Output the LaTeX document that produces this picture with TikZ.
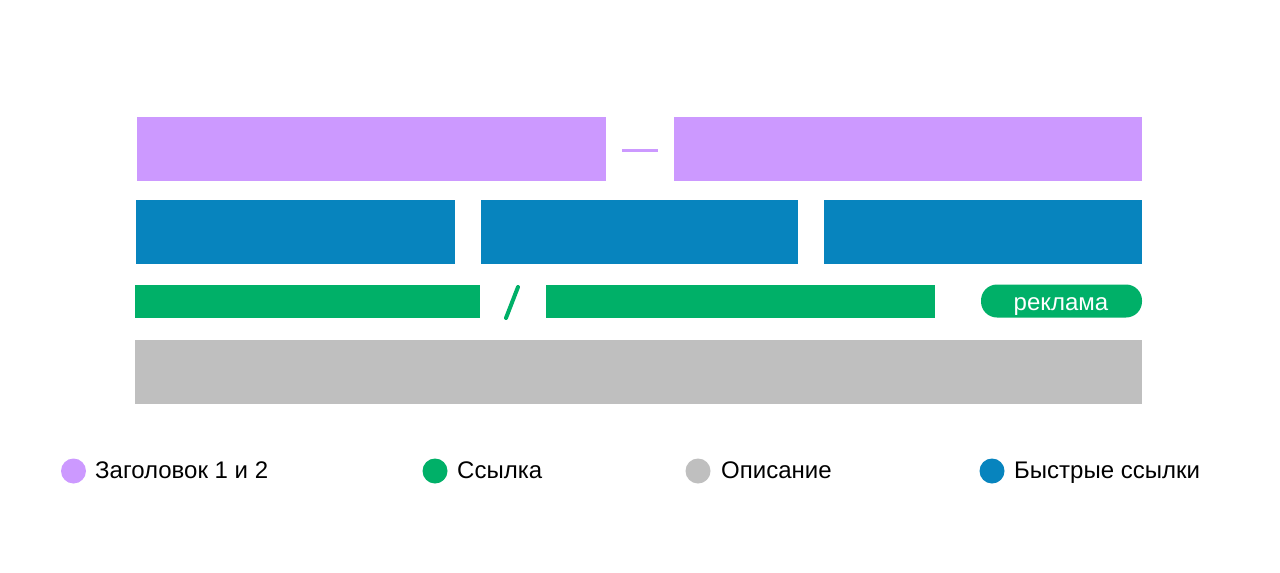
\documentclass[tikz,border=0pt]{standalone}
\usepackage{fontspec}
\setmainfont{Liberation Sans}
\definecolor{cpurple}{RGB}{204,153,255}
\definecolor{cblue}{RGB}{7,132,190}
\definecolor{cgreen}{RGB}{0,176,104}
\definecolor{cgray}{RGB}{191,191,191}
\tikzset{
  bar/.style={rectangle, inner sep=0pt, outer sep=0pt, anchor=north west, draw=none},
  dot/.style={circle, inner sep=0pt, minimum size=25pt, draw=none},
  legtext/.style={anchor=base west, inner sep=0pt, font=\fontsize{24}{28}\selectfont, text=black},
}
\begin{document}
\begin{tikzpicture}[x=1pt,y=-1pt]
\useasboundingbox[fill=white] (0,0) rectangle (1280,573);
% headline row
\node[bar, fill=cpurple, minimum width=469pt, minimum height=64pt] (h1) at (137,117) {};
\node[bar, fill=cpurple, minimum width=468pt, minimum height=64pt] (h2) at (674,117) {};
\coordinate (dashL) at (622,150.5);
\coordinate (dashR) at (658,150.5);
\draw[cpurple, line width=3.5pt] (dashL) -- (dashR);
% quick links row
\node[bar, fill=cblue, minimum width=319pt, minimum height=64pt] (q1) at (136,200) {};
\node[bar, fill=cblue, minimum width=317pt, minimum height=64pt] (q2) at (481,200) {};
\node[bar, fill=cblue, minimum width=318pt, minimum height=64pt] (q3) at (824,200) {};
% link row
\node[bar, fill=cgreen, minimum width=345pt, minimum height=33pt] (l1) at (135,285) {};
\coordinate (slB) at (506,318);
\coordinate (slT) at (518,287);
\draw[cgreen, line width=4pt, line cap=round] (slB) -- (slT);
\node[bar, fill=cgreen, minimum width=389pt, minimum height=33pt] (l2) at (546,285) {};
\node[rectangle, rounded corners=16pt, fill=cgreen, minimum width=161pt, minimum height=33pt, inner sep=0pt] (ad) at (1061.5,301) {};
\node[anchor=base, inner sep=0pt, text=white, font=\fontsize{24}{28}\selectfont] (adt) at (1061,310) {реклама};
% description row
\node[bar, fill=cgray, minimum width=1007pt, minimum height=64pt] (d1) at (135,340) {};
% legend
\node[dot, fill=cpurple] (c1) at (73.5,471) {};
\node[legtext] (t1) at (95,478) {Заголовок 1 и 2};
\node[dot, fill=cgreen] (c2) at (435,471) {};
\node[legtext] (t2) at (457,478) {Ссылка};
\node[dot, fill=cgray] (c3) at (698,471) {};
\node[legtext] (t3) at (721,478) {Описание};
\node[dot, fill=cblue] (c4) at (992,471) {};
\node[legtext] (t4) at (1014,478) {Быстрые ссылки};
\end{tikzpicture}
\end{document}
